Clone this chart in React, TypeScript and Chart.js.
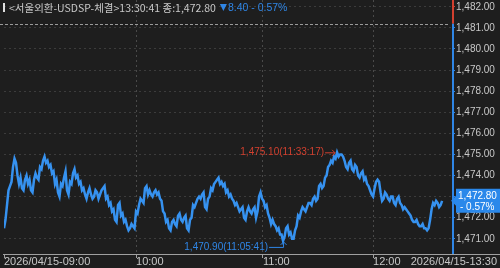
import React, { useEffect, useRef } from 'react';
import { Chart, registerables } from 'chart.js';

Chart.register(...registerables);

// ---- data ----
const titleText = '<서울외환-USDSP-체결>13:30:41 종:1,472.80';
const changeText = '8.40 - 0.57%';
const prevClose = 1481.2;
const lastPctText = '- 0.57%';
const highTime = '11:33:17';
const lowTime = '11:05:41';

const yTicks = [1471, 1472, 1473, 1474, 1475, 1476, 1477, 1478, 1479, 1480, 1481, 1482];
const xTickIdx = [0, 44, 86.3, 123];
const xTickLabels = ['2026/04/15-09:00', '10:00', '11:00', '12:00'];
const xEndLabel = '2026/04/15-13:30';
const X_MAX = 149.3;

// sampled prices (one per sample step)
const prices = [
  1471.5, 1472.6, 1473.5, 1474.4, 1474.6, 1473.6, 1473.4, 1473.8, 1473.6, 1473.3,
  1473.8, 1473.9, 1474.4, 1474.7, 1474.6, 1474.4, 1474.1, 1473.6, 1473.2, 1473.6,
  1473.9, 1473.3, 1473.7, 1474.1, 1473.9, 1473.6, 1473.3, 1473.1, 1473.2, 1473.1,
  1473.0, 1473.2, 1473.1, 1473.4, 1472.9, 1472.6, 1472.3, 1471.9, 1472.6, 1472.1,
  1471.8, 1471.6, 1471.5, 1471.6, 1472.3, 1472.6, 1472.8, 1473.4, 1473.1, 1473.1,
  1473.2, 1473.1, 1472.9, 1472.3, 1471.8, 1471.5, 1471.8, 1471.7, 1472.1, 1471.9,
  1472.0, 1471.5, 1471.9, 1472.6, 1472.7, 1473.0, 1473.1, 1472.5, 1472.9, 1473.4,
  1473.6, 1473.8, 1473.6, 1473.5, 1473.2, 1473.0, 1472.9, 1472.6, 1472.5, 1472.4,
  1472.0, 1472.3, 1472.3, 1472.4, 1472.0, 1473.0, 1472.9, 1472.5, 1472.2, 1471.7,
  1471.7, 1471.4, 1471.2, 1470.9, 1471.5, 1471.2, 1471.0, 1471.4, 1472.1, 1472.3,
  1472.4, 1472.5, 1472.7, 1472.9, 1472.8, 1473.5, 1473.4, 1473.9, 1474.4, 1474.7,
  1474.9, 1475.1, 1475.0, 1474.9, 1474.4, 1474.6, 1474.3, 1474.5, 1474.0, 1474.1,
  1473.8, 1473.6, 1473.3, 1473.0, 1473.7, 1473.7, 1472.8, 1473.2, 1472.9, 1473.0,
  1472.7, 1472.9, 1472.7, 1472.4, 1472.4, 1472.2, 1471.9, 1471.8, 1471.7, 1471.6,
  1471.5, 1471.4, 1471.9, 1472.7, 1472.8, 1472.5, 1472.8,
];

// intermediate ticks between consecutive samples (the jitter of the tick chart)
const midPrices = [
  1471.9, 1473.3, 1473.7, 1474.8, 1474.0, 1473.9, 1473.3, 1474.0, 1473.8, 1473.2,
  1474.1, 1473.8, 1474.3, 1474.9, 1474.7, 1474.5, 1474.2, 1473.8, 1473.0, 1473.5,
  1474.2, 1473.1, 1473.6, 1474.3, 1474.0, 1473.7, 1473.4, 1472.9, 1473.4, 1472.9,
  1473.3, 1472.9, 1473.3, 1473.5, 1473.0, 1472.7, 1472.4, 1471.8, 1472.7, 1472.2,
  1471.9, 1471.4, 1471.7, 1471.5, 1472.2, 1472.9, 1472.7, 1473.5, 1473.3, 1473.0,
  1473.3, 1473.2, 1472.8, 1472.2, 1471.9, 1471.4, 1471.9, 1471.6, 1472.2, 1471.8,
  1472.1, 1471.4, 1472.0, 1472.5, 1472.9, 1472.9, 1473.2, 1472.4, 1473.0, 1473.3,
  1473.7, 1473.9, 1473.7, 1473.6, 1473.3, 1473.1, 1472.8, 1472.7, 1472.3, 1472.5,
  1471.9, 1472.5, 1472.2, 1472.5, 1472.3, 1473.2, 1472.8, 1472.6, 1472.0, 1471.9,
  1471.6, 1471.5, 1471.2, 1471.1, 1471.6, 1471.3, 1471.0, 1471.6, 1472.0, 1472.5,
  1472.3, 1472.7, 1472.6, 1473.0, 1472.9, 1473.6, 1473.5, 1474.0, 1474.5, 1474.6,
  1474.8, 1474.9, 1475.0, 1474.7, 1474.3, 1474.7, 1474.2, 1474.4, 1473.9, 1474.2,
  1473.9, 1473.5, 1473.1, 1473.4, 1473.8, 1473.2, 1472.9, 1473.1, 1472.8, 1473.0,
  1472.6, 1473.0, 1472.6, 1472.5, 1472.3, 1472.1, 1471.8, 1471.9, 1471.6, 1471.7,
  1471.5, 1471.5, 1472.4, 1472.6, 1472.7, 1472.6,
];

// ---- styles ----
const BG = '#1e1e1e';
const LINE = '#3692f0';
const RED = '#d2402f';
const BLUE = '#2f86e6';
const TEXT = '#c8c8c8';
const FONT = '"Liberation Sans", Arial, sans-serif';
const KFONT = '"Noto Sans CJK KR", "Liberation Sans", sans-serif';

const fmt = (v: number) =>
  v.toLocaleString('en-US', { minimumFractionDigits: 2, maximumFractionDigits: 2 });

const series: { x: number; y: number }[] = [];
prices.forEach((v, i) => {
  series.push({ x: i, y: v });
  if (i < midPrices.length) series.push({ x: i + 0.5, y: midPrices[i] });
});

const overlay = {
  id: 'overlay',
  beforeDraw(chart: any) {
    const { ctx, width, height } = chart;
    ctx.save();
    ctx.fillStyle = BG;
    ctx.fillRect(0, 0, width, height);
    ctx.restore();
  },
  beforeDatasetsDraw(chart: any) {
    const { ctx, scales, chartArea } = chart;
    const y = scales.y;
    const py = Math.round(y.getPixelForValue(prevClose)) + 0.5;
    ctx.save();
    ctx.strokeStyle = '#9a9a9a';
    ctx.setLineDash([3, 2]);
    ctx.lineWidth = 1;
    ctx.beginPath();
    ctx.moveTo(0, py);
    ctx.lineTo(chartArea.right - 2, py);
    ctx.stroke();
    ctx.restore();
  },
  afterDraw(chart: any) {
    const { ctx, scales, chartArea } = chart;
    const x = scales.x;
    const y = scales.y;
    ctx.save();

    // header
    ctx.fillStyle = '#e0e0e0';
    ctx.fillRect(3, 3, 2, 9);
    ctx.font = `10.5px ${KFONT}`;
    ctx.textBaseline = 'middle';
    ctx.textAlign = 'left';
    ctx.fillStyle = TEXT;
    ctx.fillText(titleText, 9, 8);
    const tw = ctx.measureText(titleText).width;
    const tx = 9 + tw + 4;
    ctx.fillStyle = BLUE;
    ctx.beginPath();
    ctx.moveTo(tx, 4);
    ctx.lineTo(tx + 7, 4);
    ctx.lineTo(tx + 3.5, 11);
    ctx.closePath();
    ctx.fill();
    ctx.font = `10.5px ${FONT}`;
    ctx.fillText(changeText, tx + 8, 8);

    // right axis line split at prev close
    const axX = chartArea.right + 1;
    const py = y.getPixelForValue(prevClose);
    ctx.lineWidth = 2;
    ctx.strokeStyle = RED;
    ctx.beginPath();
    ctx.moveTo(axX, 0);
    ctx.lineTo(axX, py);
    ctx.stroke();
    ctx.strokeStyle = BLUE;
    ctx.beginPath();
    ctx.moveTo(axX, py);
    ctx.lineTo(axX, chartArea.bottom);
    ctx.stroke();

    // bottom axis line
    ctx.lineWidth = 1;
    ctx.strokeStyle = '#a0a0a0';
    ctx.beginPath();
    ctx.moveTo(3, chartArea.bottom + 0.5);
    ctx.lineTo(500, chartArea.bottom + 0.5);
    ctx.stroke();

    // end label
    ctx.font = `11px ${FONT}`;
    ctx.fillStyle = TEXT;
    ctx.textAlign = 'right';
    ctx.textBaseline = 'middle';
    ctx.fillText(xEndLabel, 497, chartArea.bottom + 8);

    // high / low annotations
    let hi = series[0], lo = series[0];
    series.forEach((p) => {
      if (p.y > hi.y) hi = p;
      if (p.y < lo.y) lo = p;
    });
    const hx = x.getPixelForValue(hi.x);
    const hy = y.getPixelForValue(hi.y);
    ctx.font = `10px ${FONT}`;
    ctx.fillStyle = RED;
    ctx.strokeStyle = RED;
    ctx.textAlign = 'right';
    ctx.fillText(`${fmt(hi.y)}(${highTime})`, hx - 13, hy);
    ctx.beginPath();
    ctx.moveTo(hx - 12, hy + 0.5);
    ctx.lineTo(hx - 2, hy + 0.5);
    ctx.moveTo(hx - 5, hy - 2.5);
    ctx.lineTo(hx - 2, hy + 0.5);
    ctx.lineTo(hx - 5, hy + 3.5);
    ctx.stroke();

    const lx = x.getPixelForValue(lo.x);
    const ly = y.getPixelForValue(lo.y);
    ctx.fillStyle = BLUE;
    ctx.strokeStyle = BLUE;
    ctx.fillText(`${fmt(lo.y)}(${lowTime})`, lx - 15, ly + 6);
    ctx.beginPath();
    ctx.moveTo(lx - 14, ly + 6.5);
    ctx.lineTo(lx + 0.5, ly + 6.5);
    ctx.lineTo(lx + 0.5, ly + 1);
    ctx.moveTo(lx - 2.5, ly + 4);
    ctx.lineTo(lx + 0.5, ly + 1);
    ctx.lineTo(lx + 3.5, ly + 4);
    ctx.stroke();

    // last price box
    const last = prices[prices.length - 1];
    const ly2 = y.getPixelForValue(last);
    const bx = chartArea.right + 2;
    const bw = 46;
    const bh = 24;
    ctx.fillStyle = '#2a88ea';
    ctx.beginPath();
    ctx.moveTo(bx - 3, ly2);
    ctx.lineTo(bx + 2, ly2 - 5);
    ctx.lineTo(bx + 2, ly2 - bh / 2);
    ctx.lineTo(bx + bw, ly2 - bh / 2);
    ctx.lineTo(bx + bw, ly2 + bh / 2);
    ctx.lineTo(bx + 2, ly2 + bh / 2);
    ctx.lineTo(bx + 2, ly2 + 5);
    ctx.closePath();
    ctx.fill();
    ctx.fillStyle = '#ffffff';
    ctx.font = `10px ${FONT}`;
    ctx.textAlign = 'left';
    ctx.fillText(fmt(last), bx + 4, ly2 - 5);
    ctx.fillText(lastPctText, bx + 6, ly2 + 6);

    ctx.restore();
  },
};

export default function App() {
  const ref = useRef<HTMLCanvasElement | null>(null);

  useEffect(() => {
    if (!ref.current) return;
    const chart = new Chart(ref.current, {
      type: 'line',
      data: {
        datasets: [
          {
            data: series,
            borderColor: LINE,
            borderWidth: 2.5,
            pointRadius: 0,
            tension: 0,
            fill: false,
          },
        ],
      },
      options: {
        animation: false,
        responsive: false,
        maintainAspectRatio: false,
        layout: { padding: { left: 4, right: 0, top: 0, bottom: 0 } },
        plugins: { legend: { display: false }, tooltip: { enabled: false } },
        scales: {
          x: {
            type: 'linear',
            min: 0,
            max: X_MAX,
            afterBuildTicks: (s: any) => {
              s.ticks = xTickIdx.map((v) => ({ value: v }));
            },
            afterFit: (s: any) => {
              s.height = 14;
              s.paddingLeft = 0;
              s.paddingRight = 0;
            },
            grid: {
              color: (c: any) => (c.index === 0 ? 'rgba(0,0,0,0)' : '#4a4a4a'),
              tickLength: 4,
              tickColor: '#a0a0a0',
            },
            border: { display: false, dash: [2, 3] },
            ticks: {
              align: 'start',
              color: TEXT,
              font: { size: 11, family: FONT },
              padding: -3,
              maxRotation: 0,
              autoSkip: false,
              callback: (_v: any, i: number) => xTickLabels[i],
            },
          },
          y: {
            position: 'right',
            min: 1470.28,
            max: 1482.32,
            afterBuildTicks: (s: any) => {
              s.ticks = yTicks.map((v) => ({ value: v }));
            },
            afterFit: (s: any) => {
              s.width = 48;
              s.paddingTop = 0;
              s.paddingBottom = 0;
            },
            grid: {
              color: '#3c3c3c',
              tickLength: 3,
              tickColor: (c: any) => (c.tick && c.tick.value > prevClose ? RED : BLUE),
            },
            border: { display: false, dash: [2, 3] },
            ticks: {
              color: TEXT,
              font: { size: 10, family: FONT },
              padding: 1,
              callback: (v: any) => fmt(Number(v)),
            },
          },
        },
      },
      plugins: [overlay],
    } as any);
    return () => chart.destroy();
  }, []);

  return (
    <div style={{ position: 'fixed', left: 0, top: 0, width: 500, height: 268, background: BG }}>
      <canvas ref={ref} width={500} height={268} style={{ display: 'block' }} />
    </div>
  );
}
